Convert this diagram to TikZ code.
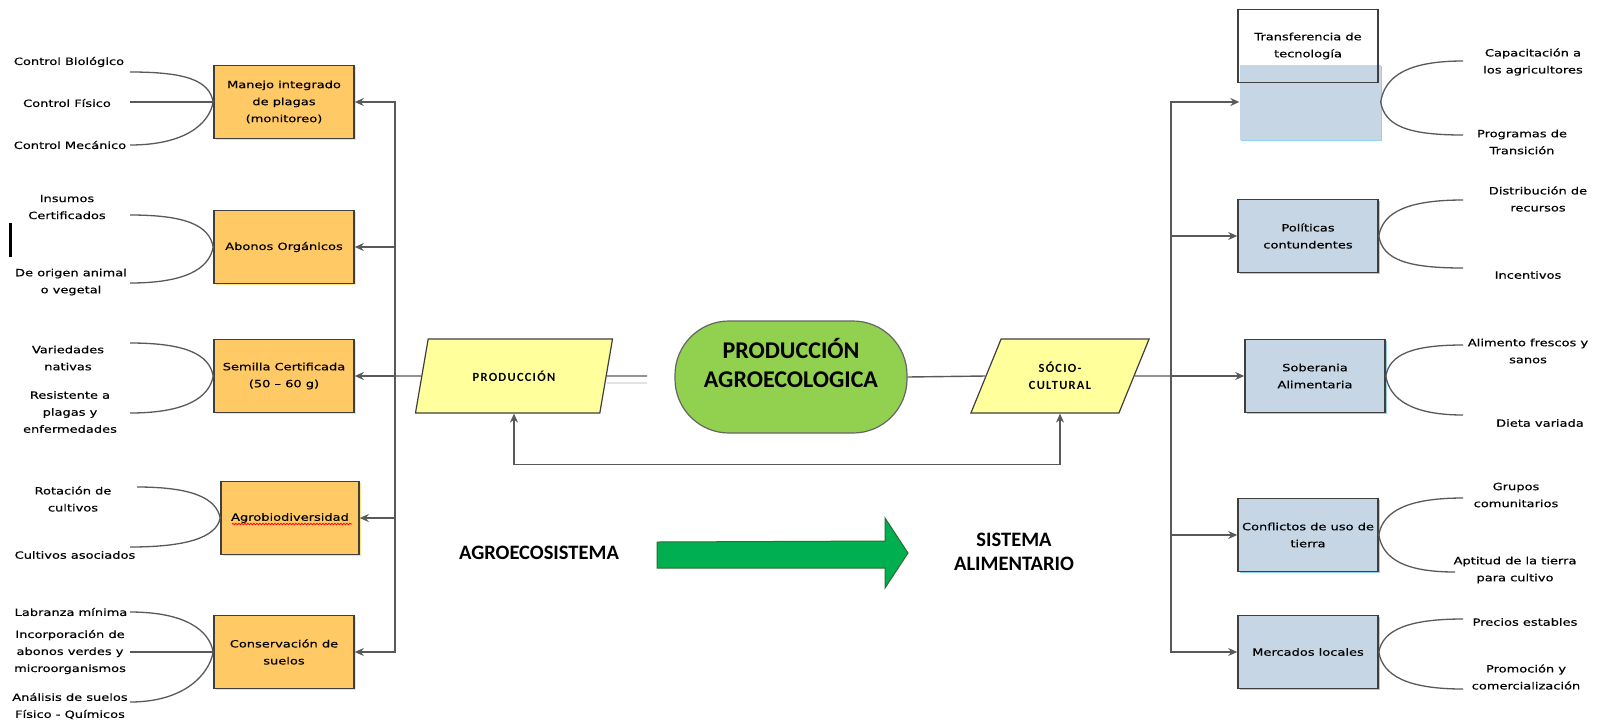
\documentclass[tikz,border=0pt]{standalone}
\usepackage{fontspec}
\setmainfont{DejaVu Sans}[FakeStretch=1.3, FakeBold=0.4]
\newfontfamily\calfont{Carlito}
\newfontfamily\calspaced{Carlito}[LetterSpace=10]
\usetikzlibrary{shapes.geometric, arrows.meta, shadows, decorations.pathmorphing}

\definecolor{cajanar}{HTML}{FFC966}
\definecolor{sombranar}{HTML}{FFE38A}
\definecolor{cajaazul}{HTML}{C6D6E5}
\definecolor{sombraazul}{HTML}{8FD3F0}
\definecolor{amarillo}{HTML}{FFFF9C}
\definecolor{verdeclaro}{HTML}{92D050}
\definecolor{verdeflecha}{HTML}{00B050}
\definecolor{verdeoscuro}{HTML}{2E6B30}
\definecolor{linea}{HTML}{595959}
\definecolor{borde}{HTML}{3F3F3F}

\begin{document}
\begin{tikzpicture}[x=1pt, y=-1pt,
    txt/.style={font=\fontsize{10}{17}\selectfont, align=center, inner sep=0pt},
    caja/.style={draw=borde, line width=1.6pt, minimum width=140pt, minimum height=73pt, inner sep=2pt, align=center, font=\fontsize{10}{17}\selectfont},
    nar/.style={caja, fill=cajanar, drop shadow={shadow xshift=1.5pt, shadow yshift=-1.5pt, fill=sombranar, opacity=1}},
    azul/.style={caja, fill=cajaazul, drop shadow={shadow xshift=1.5pt, shadow yshift=-1.5pt, fill=sombraazul, opacity=1}},
    para/.style={trapezium, trapezium left angle=60, trapezium right angle=120, trapezium stretches=true, draw=borde, line width=1.2pt, fill=amarillo, minimum height=74pt, inner sep=0pt, align=center, font=\calspaced\bfseries\fontsize{12.5}{17}\selectfont},
    lin/.style={draw=linea, line width=1.4pt},
    arr/.style={lin, -{Stealth[length=9pt, width=8pt]}},
    arrdos/.style={lin, {Stealth[length=9pt, width=8pt]}-{Stealth[length=9pt, width=8pt]}},
    rama/.style={draw=linea, line width=1.3pt}]
    \useasboundingbox (0,0) rectangle (1600,721);

    \node[nar] (mip) at (284,102) {Manejo integrado\\de plagas\\(monitoreo)};
    \node[nar] (abo) at (284,247) {Abonos Orgánicos};
    \node[nar] (sem) at (284,376) {Semilla Certificada\\(50 – 60 g)};
    \node[nar, minimum width=138pt] (agro) at (290,518) {Agrobiodiversidad};
    \node[nar] (con) at (284,652) {Conservación de\\suelos};
    \draw[red, line width=0.8pt, decorate, decoration={snake, amplitude=0.7pt, segment length=3pt}] ([xshift=-58pt, yshift=-6pt]agro.center) -- ([xshift=62pt, yshift=-6pt]agro.center);

    \node[txt] (cbio) at (69,62) {Control Biológico};
    \node[txt] (cfis) at (67,103) {Control Físico};
    \node[txt] (cmec) at (70,145) {Control Mecánico};
    \node[txt] (insu) at (67,207) {Insumos\\Certificados};
    \node[txt] (orig) at (71,282) {De origen animal\\o vegetal};
    \node[txt] (vari) at (68,358) {Variedades\\nativas};
    \node[txt] (resi) at (70,412) {Resistente a\\plagas y\\enfermedades};
    \node[txt] (rota) at (73,499) {Rotación de\\cultivos};
    \node[txt] (casoc) at (75,555) {Cultivos asociados};
    \node[txt] (labr) at (71,612) {Labranza mínima};
    \node[txt] (inco) at (70,652) {Incorporación de\\abonos verdes y\\microorganismos};
    \node[txt] (anal) at (70,706) {Análisis de suelos\\Físico - Químicos};
    \draw[line width=3pt] (10,223) -- (10,257);

    \coordinate (a1) at (130,72);
    \coordinate (a2) at (130,102);
    \coordinate (a3) at (130,145);
    \coordinate (b1) at (130,215);
    \coordinate (b2) at (130,283);
    \coordinate (v1) at (130,343);
    \coordinate (v2) at (130,413);
    \coordinate (r1) at (137,487);
    \coordinate (r2) at (130,547);
    \coordinate (k1) at (130,612);
    \coordinate (k2) at (130,652);
    \coordinate (k3) at (130,702);
    \draw[rama] (a1) .. controls +(55,0) and +(-4,-22) .. (mip.west);
    \draw[rama] (a2) -- (mip.west);
    \draw[rama] (a3) .. controls +(55,0) and +(-4,22) .. (mip.west);
    \draw[rama] (b1) .. controls +(55,0) and +(-4,-22) .. (abo.west);
    \draw[rama] (b2) .. controls +(55,0) and +(-4,22) .. (abo.west);
    \draw[rama] (v1) .. controls +(55,0) and +(-4,-22) .. (sem.west);
    \draw[rama] (v2) .. controls +(55,0) and +(-4,22) .. (sem.west);
    \draw[rama] (r1) .. controls +(55,0) and +(-4,-20) .. (agro.west);
    \draw[rama] (r2) .. controls +(55,0) and +(-4,20) .. (agro.west);
    \draw[rama] (k1) .. controls +(55,0) and +(-4,-22) .. (con.west);
    \draw[rama] (k2) -- (con.west);
    \draw[rama] (k3) .. controls +(55,0) and +(-4,22) .. (con.west);

    \node[para, minimum width=198pt] (prod) at (514,376) {PRODUCCIÓN};
    \node[para, minimum width=179pt] (socio) at (1060,376) {SÓCIO-\\CULTURAL};
    \node[draw=borde!80, line width=1.2pt, fill=verdeclaro, rounded corners=54pt, minimum width=232pt, minimum height=112pt, align=center, font=\calfont\bfseries\fontsize{24}{29}\selectfont] (pa) at (791,377) {PRODUCCIÓN\\AGROECOLOGICA\\\mbox{}};

    \coordinate (lbus) at (395,376);
    \coordinate (rbus) at (1171,376);
    \coordinate (pcut) at (647,376);
    \draw[lin] (prod.west) -- (lbus);
    \draw[arr] (lbus) |- (mip.east);
    \draw[arr] (lbus) |- (abo.east);
    \draw[arr] (lbus) -- (sem.east);
    \draw[arr] (lbus) |- (agro.east);
    \draw[arr] (lbus) |- (con.east);
    \draw[lin] (prod.east) -- (pcut);
    \draw[draw=gray!35, line width=1.2pt] ([yshift=-7pt]prod.east) -- ([yshift=-7pt]pcut);
    \draw[lin] (pa.east) -- (socio.west);
    \draw[lin] (socio.east) -- (rbus);
    \draw[arrdos] (prod.south -| prod.center) -- ++(0,51) -| (socio.south -| socio.center);

    \node[font=\calfont\bfseries\fontsize{20.5}{24}\selectfont] (agroeco) at (539,553) {AGROECOSISTEMA};
    \node[font=\calfont\bfseries\fontsize{20.5}{24}\selectfont, align=center] (sisal) at (1014,552) {SISTEMA\\ALIMENTARIO};
    \filldraw[fill=verdeflecha, draw=verdeoscuro, line width=1pt] (657,542) -- (885,541) -- (885,518) -- (908,553) -- (885,588) -- (885,568) -- (657,568) -- cycle;

    \node[fill=cajaazul, minimum width=141pt, minimum height=75pt, inner sep=0pt, drop shadow={shadow xshift=1.5pt, shadow yshift=-1.5pt, fill=sombraazul, opacity=1}] (tec) at (1310,102) {};
    \node[caja] (tectit) at (1308,46) {Transferencia de\\tecnología};
    \node[azul] (pol) at (1308,236) {Políticas\\contundentes};
    \node[azul] (sob) at (1315,376) {Soberania\\Alimentaria};
    \node[azul] (conf) at (1308,535) {Conflictos de uso de\\tierra};
    \node[azul] (mer) at (1308,652) {Mercados locales};
    \draw[arr] (rbus) |- (tec.west);
    \draw[arr] (rbus) |- (pol.west);
    \draw[arr] (rbus) -- (sob.west);
    \draw[arr] (rbus) |- (conf.west);
    \draw[arr] (rbus) |- (mer.west);

    \node[txt] (capa) at (1533,62) {Capacitación a\\los agricultores};
    \node[txt] (prog) at (1522,142) {Programas de\\Transición};
    \node[txt] (dist) at (1538,199) {Distribución de\\recursos};
    \node[txt] (ince) at (1528,275) {Incentivos};
    \node[txt] (alim) at (1528,351) {Alimento frescos y\\sanos};
    \node[txt] (diet) at (1540,423) {Dieta variada};
    \node[txt] (grup) at (1516,495) {Grupos\\comunitarios};
    \node[txt] (apti) at (1515,570) {Aptitud de la tierra\\para cultivo};
    \node[txt] (prec) at (1525,622) {Precios estables};
    \node[txt] (prom) at (1526,677) {Promoción y\\comercialización};

    \coordinate (t1) at (1463,61);
    \coordinate (t2) at (1463,135);
    \coordinate (p1) at (1463,200);
    \coordinate (p2) at (1463,268);
    \coordinate (s1) at (1463,345);
    \coordinate (s2) at (1463,415);
    \coordinate (c1) at (1463,498);
    \coordinate (c2) at (1455,572);
    \coordinate (m1) at (1463,619);
    \coordinate (m2) at (1463,689);
    \draw[rama] (tec.east) .. controls +(4,-26) and +(-55,0) .. (t1);
    \draw[rama] (tec.east) .. controls +(4,24) and +(-55,0) .. (t2);
    \draw[rama] (pol.east) .. controls +(4,-24) and +(-55,0) .. (p1);
    \draw[rama] (pol.east) .. controls +(4,24) and +(-55,0) .. (p2);
    \draw[rama] (sob.east) .. controls +(4,-22) and +(-50,0) .. (s1);
    \draw[rama] (sob.east) .. controls +(4,24) and +(-50,0) .. (s2);
    \draw[rama] (conf.east) .. controls +(4,-24) and +(-55,0) .. (c1);
    \draw[rama] (conf.east) .. controls +(4,24) and +(-50,0) .. (c2);
    \draw[rama] (mer.east) .. controls +(4,-22) and +(-55,0) .. (m1);
    \draw[rama] (mer.east) .. controls +(4,24) and +(-55,0) .. (m2);
\end{tikzpicture}
\end{document}
